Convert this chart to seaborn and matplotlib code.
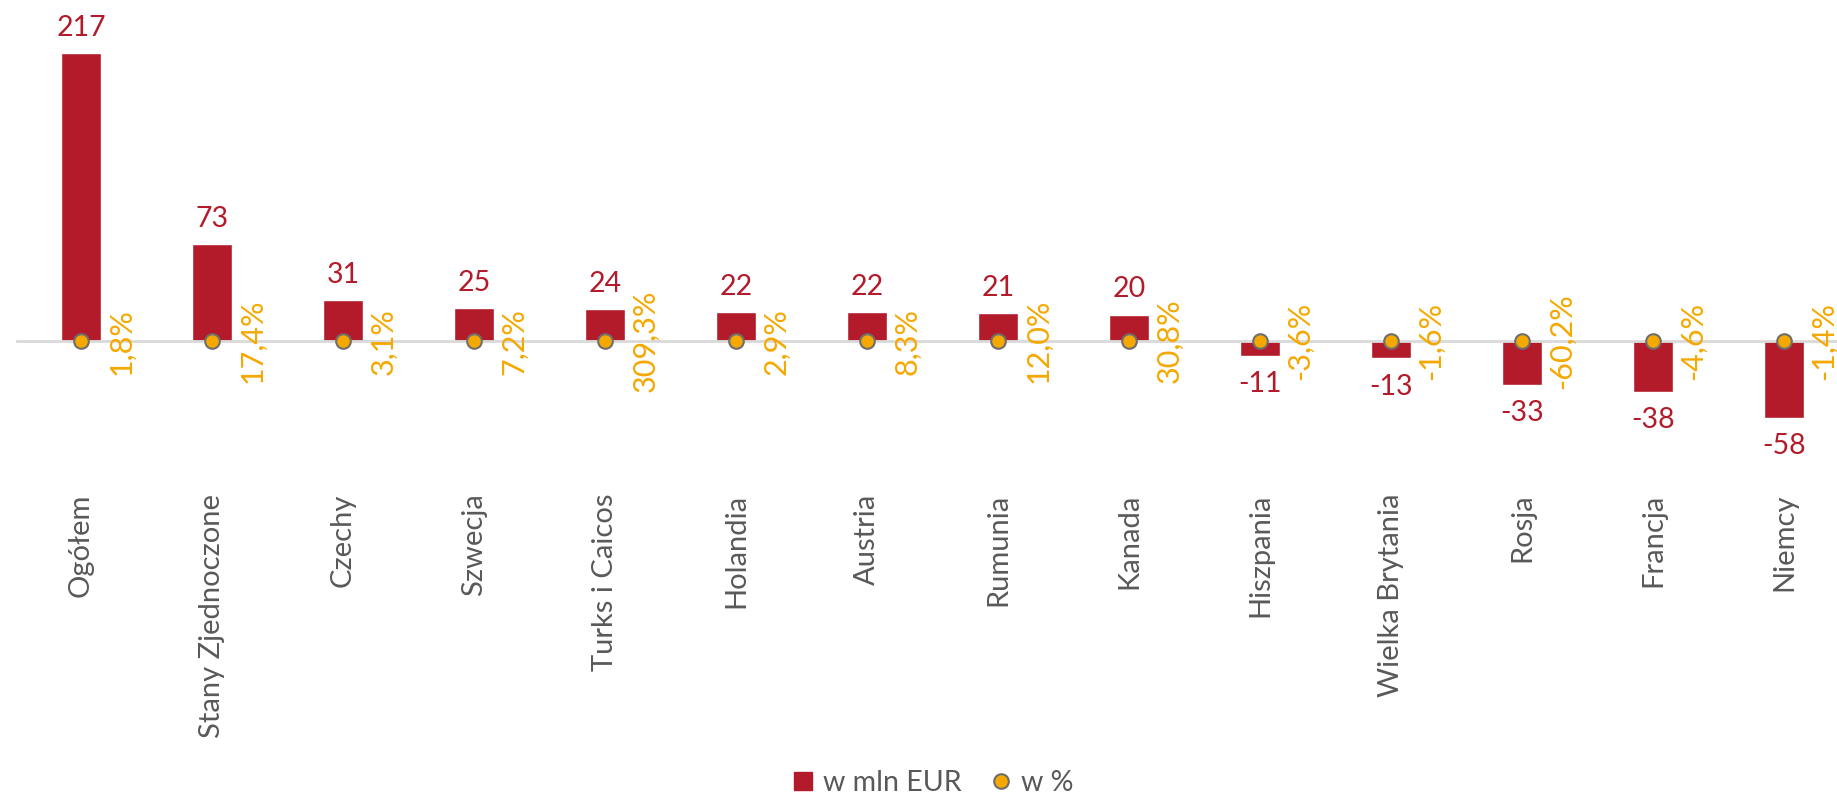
import numpy as np
import matplotlib.pyplot as plt
import seaborn as sns
from matplotlib.lines import Line2D

# Data
categories = ["Ogółem", "Stany Zjednoczone", "Czechy", "Szwecja", "Turks i Caicos",
              "Holandia", "Austria", "Rumunia", "Kanada", "Hiszpania",
              "Wielka Brytania", "Rosja", "Francja", "Niemcy"]
mln_eur = [217, 73, 31, 25, 24, 22, 22, 21, 20, -11, -13, -33, -38, -58]
pct = [1.8, 17.4, 3.1, 7.2, 309.3, 2.9, 8.3, 12.0, 30.8, -3.6, -1.6, -60.2, -4.6, -1.4]

RED = "#B31B2B"
ORANGE = "#F5A800"
GRAY = "#595959"

sns.set_theme(style="white")
plt.rcParams['font.family'] = ['Lato', 'DejaVu Sans']

fig = plt.figure(figsize=(18.37, 7.95), dpi=100)
ax = fig.add_axes([15.5 / 1837, 1 - 434 / 795, 14 * 131 / 1837, 411 / 795])

sns.barplot(x=categories, y=mln_eur, color=RED, width=0.31, saturation=1, ax=ax)
ax.set_ylim(-70, 240)
ax.axhline(0, color="#D9D9D9", lw=2, zorder=1)

# value labels
for i, v in enumerate(mln_eur):
    if v >= 0:
        ax.annotate(str(v), (i, v), xytext=(0, 9), textcoords="offset points",
                    ha="center", va="bottom", color=RED, fontsize=20.5)
    else:
        ax.annotate(str(v), (i, v), xytext=(0, -11), textcoords="offset points",
                    ha="center", va="top", color=RED, fontsize=20.5)

# percent series on a secondary axis with a wide scale
ax2 = ax.twinx()
ax2.set_ylim(-70000, 240000)
x = np.arange(len(categories))
ax2.plot(x, pct, ls="none", marker="o", ms=10.5, mfc=ORANGE, mec="#6E6E6E", mew=1.5)
for i, p in enumerate(pct):
    lab = f"{p:.1f}%".replace(".", ",")
    ax2.annotate(lab, (i, p), xytext=(29, 0), textcoords="offset points",
                 ha="center", va="center", rotation=90, color=ORANGE, fontsize=22)
ax2.set_yticks([])

for a in (ax, ax2):
    for s in a.spines.values():
        s.set_visible(False)
ax.set_yticks([])
ax.set_xlim(-0.5, 13.5)
ax.tick_params(axis="x", length=0, pad=43, labelsize=21, labelcolor=GRAY)
plt.setp(ax.get_xticklabels(), rotation=90, ha="center", va="top")

# legend
handles = [Line2D([], [], ls="none", marker="s", ms=13, mfc=RED, mec=RED),
           Line2D([], [], ls="none", marker="o", ms=10.5, mfc=ORANGE, mec="#6E6E6E", mew=1.5)]
fig.legend(handles, ["w mln EUR", "w %"], loc="center", bbox_to_anchor=(931 / 1837, 1 - 783 / 795),
           ncol=2, frameon=False, fontsize=20.5, labelcolor=GRAY, handletextpad=0.2,
           columnspacing=0.9, handlelength=1.0)

fig.savefig("out.png", dpi=100)
